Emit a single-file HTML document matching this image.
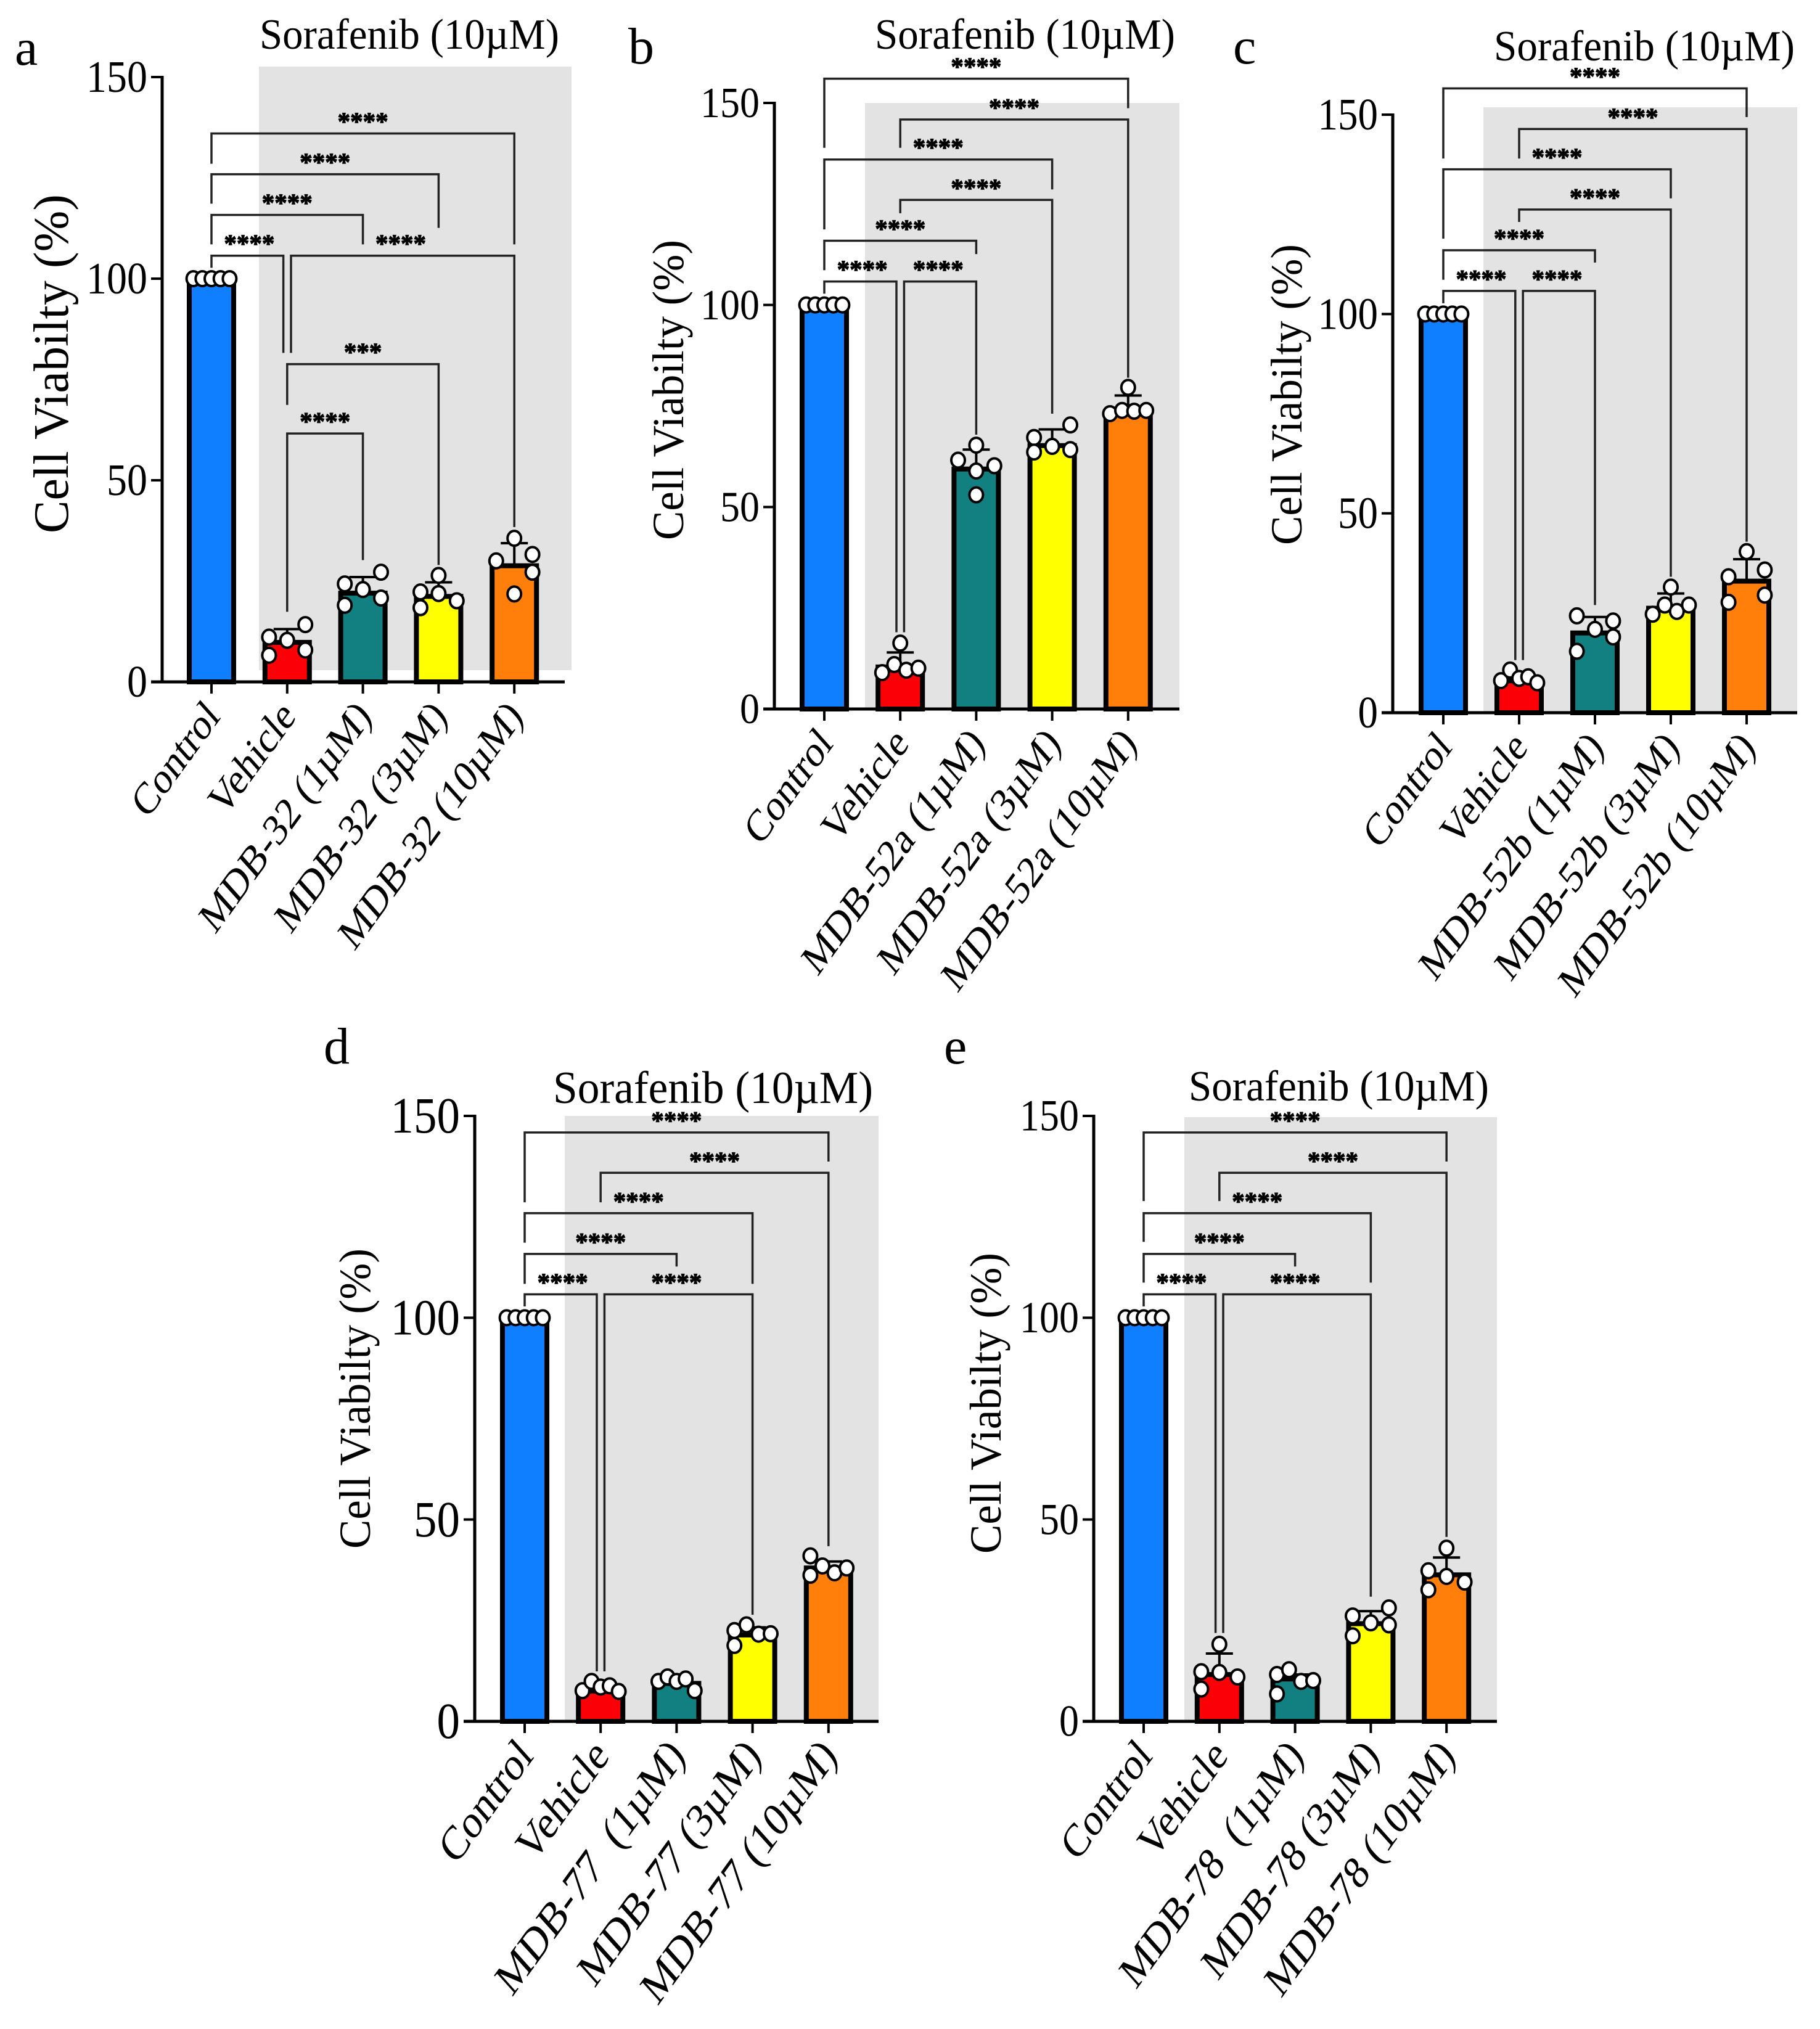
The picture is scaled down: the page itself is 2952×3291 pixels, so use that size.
<!DOCTYPE html>
<html lang="en">
<head>
<meta charset="utf-8">
<title>Cell viability bar charts</title>
<style>
html,body{margin:0;padding:0;background:#fff;}
svg{display:block;}
text{font-family:"Liberation Serif",serif;fill:#000;}
</style>
</head>
<body>
<svg id="figure" xmlns="http://www.w3.org/2000/svg" width="2952" height="3291" viewBox="0 0 2952 3291">
  <rect width="2952" height="3291" fill="#fff"/>

  <g id="panel-a">
    <rect x="420" y="108" width="507" height="979" fill="#e3e3e3"/>
    <text x="24" y="105" font-size="84">a</text>
    <text x="421" y="79" font-size="70" textLength="486" lengthAdjust="spacingAndGlyphs">Sorafenib (10µM)</text>
    <text transform="translate(110,865) rotate(-90)" font-size="80" textLength="550" lengthAdjust="spacingAndGlyphs">Cell Viabilty (%)</text>
  </g>
  <g id="panel-b">
    <rect x="1403" y="167" width="510" height="983" fill="#e3e3e3"/>
    <text x="1019" y="103" font-size="84">b</text>
    <text x="1419" y="79" font-size="70" textLength="487" lengthAdjust="spacingAndGlyphs">Sorafenib (10µM)</text>
    <text transform="translate(1108,876) rotate(-90)" font-size="72" textLength="487" lengthAdjust="spacingAndGlyphs">Cell Viabilty (%)</text>
  </g>
  <g id="panel-c">
    <rect x="2406" y="174" width="509" height="982" fill="#e3e3e3"/>
    <text x="2000" y="103" font-size="84">c</text>
    <text x="2423" y="98" font-size="70" textLength="488" lengthAdjust="spacingAndGlyphs">Sorafenib (10µM)</text>
    <text transform="translate(2111,884) rotate(-90)" font-size="72" textLength="488" lengthAdjust="spacingAndGlyphs">Cell Viabilty (%)</text>
  </g>
  <g id="panel-d">
    <rect x="916" y="1810" width="509" height="982" fill="#e3e3e3"/>
    <text x="525" y="1725" font-size="84">d</text>
    <text x="897" y="1789" font-size="74" textLength="519" lengthAdjust="spacingAndGlyphs">Sorafenib (10µM)</text>
    <text transform="translate(600,2512) rotate(-90)" font-size="72" textLength="487" lengthAdjust="spacingAndGlyphs">Cell Viabilty (%)</text>
  </g>
  <g id="panel-e">
    <rect x="1921" y="1812" width="507" height="980" fill="#e3e3e3"/>
    <text x="1531" y="1725" font-size="84">e</text>
    <text x="1928" y="1785" font-size="70" textLength="487" lengthAdjust="spacingAndGlyphs">Sorafenib (10µM)</text>
    <text transform="translate(1623,2520) rotate(-90)" font-size="72" textLength="488" lengthAdjust="spacingAndGlyphs">Cell Viabilty (%)</text>
  </g>
</svg>

<script>
const yTickValues = [0, 50, 100, 150];
const barColors = ['#0f7fff', '#fc0008', '#128080', '#ffff00', '#ff7f0a'];

const categoriesA = ['Control', 'Vehicle', 'MDB-32 (1µM)', 'MDB-32 (3µM)', 'MDB-32 (10µM)'];
const categoriesB = ['Control', 'Vehicle', 'MDB-52a (1µM)', 'MDB-52a (3µM)', 'MDB-52a (10µM)'];
const categoriesC = ['Control', 'Vehicle', 'MDB-52b (1µM)', 'MDB-52b (3µM)', 'MDB-52b (10µM)'];
const categoriesD = ['Control', 'Vehicle', 'MDB-77  (1µM)', 'MDB-77 (3µM)', 'MDB-77 (10µM)'];
const categoriesE = ['Control', 'Vehicle', 'MDB-78  (1µM)', 'MDB-78 (3µM)', 'MDB-78 (10µM)'];

const meansA = [100, 9.8, 22, 21.2, 28.8];
const meansB = [100, 10.4, 59.4, 65.2, 73];
const meansC = [100, 8, 20, 26.2, 33];
const meansD = [100, 7.5, 9.4, 21.4, 38];
const meansE = [100, 11.6, 10.5, 24.2, 36.3];

const errorTopsA = [100, 13.1, 26, 24.7, 34.4];
const errorTopsB = [100, 14, 64.2, 69.2, 77.6];
const errorTopsC = [100, 9.5, 24, 29.9, 38.5];
const errorTopsD = [100, 9, 10.5, 23.3, 39.6];
const errorTopsE = [100, 16.8, 11.6, 27.3, 40.6];

const pointsA = [[100,100,100,100,100],[11.1,10.3,14.2,7.9,6.6],[24.3,22.9,27.2,20.8,19],[22.3,26.4,21.9,20.1,18.4],[35.6,31.6,30,27.2,21.8]];
const pointsB = [[100,100,100,100,100],[16.3,11,9,9.6,10.1],[65.3,61.6,60.2,58.9,53],[70.3,67.2,65,64.2,63.6],[79.6,73.1,73.9,73.7,73.9]];
const pointsC = [[100,100,100,100,100],[8.05,10.7,8.6,9,7.5],[24.3,20.9,23,19,15.4],[31.5,24.7,27,25.4,27],[40.4,35.8,34.1,29.5,27.7]];
const pointsD = [[100,100,100,100,100],[7.6,9.9,8.5,8.8,7.4],[9.9,11,9.9,10.5,7.6],[22.5,23.9,21.6,21.7,18.8],[41,38.5,36.8,38,36.2]];
const pointsE = [[100,100,100,100,100],[19.1,12.3,12.1,11,8],[11.6,12.8,9.9,10.1,6.8],[26.1,28.1,24.4,23.9,21.2],[42.9,37.3,35.9,34.5,32.6]];

/* swarm column index of each point within its bar */
const swarmA = [[-3,-1.5,0,1.5,3],[-3,0,3,3,-3],[-3,0,3,3,-3],[-3,0,0,3,-3],[0,3,-3,3,0]];
const swarmB = [[-3,-1.5,0,1.5,3],[0,-1,-3,1,3],[0,-3,3,0,0],[3,-3,0,3,-3],[0,-3,-1,1,3]];
const swarmC = [[-3,-1.5,0,1.5,3],[-3,-1.5,0,1.5,3],[-3,0,3,3,-3],[0,-3,-1,1,3],[0,3,-3,3,-3]];
const swarmD = [[-3,-1.5,0,1.5,3],[-3,-1.5,0,1.5,3],[-3,-1.5,0,1.5,3],[-3,-1,1,3,-3],[-3,-1,1,3,-3]];
const swarmE = [[-3,-1.5,0,1.5,3],[0,-3,0,3,-3],[-3,-1,1,3,-3],[-3,3,0,3,-3],[0,-3,0,3,-3]];

/* significance brackets: from group, to group, level, left end, right end, label, from side, to side (values in % units) */
const bracketsA = [[0,4,136,128.5,108.5,'****',0,0],[0,3,125.9,118.6,112.6,'****',0,0],[0,2,115.8,108.5,108.5,'****',0,0],[0,1,105.7,102.7,81.6,'****',0,-1],[1,4,105.7,81.6,38.4,'****',1,0],[1,3,78.8,68.7,29,'***',0,0],[1,2,61.6,17.4,30.2,'****',0,0]];
const bracketsB = [[0,4,156,138.9,148.7,'****',0,0],[1,4,145.9,138.9,82,'****',0,0],[0,3,136,118.7,128.6,'****',0,0],[1,3,126,122.7,73.1,'****',0,0],[0,2,115.9,108.6,112.6,'****',0,0],[0,1,105.8,102.8,19,'****',0,-1],[1,2,105.8,19,67.9,'****',1,0]];
const bracketsC = [[0,4,156.6,139,149.4,'****',0,0],[1,4,146.4,139,42.9,'****',0,0],[0,3,136.3,118.9,129,'****',0,0],[1,3,126.2,123.1,34.1,'****',0,0],[0,2,116,108.6,112.9,'****',0,0],[0,1,105.8,102.7,13.2,'****',0,-1],[1,2,105.8,13.2,27,'****',1,0]];
const bracketsD = [[0,4,145.9,128.6,138.7,'****',0,0],[1,4,135.9,128.6,43.4,'****',0,0],[0,3,125.9,118.6,108.4,'****',0,0],[0,2,115.8,108.4,112.7,'****',0,0],[0,1,105.8,102.8,12.4,'****',0,-1],[1,3,105.8,12.4,26.4,'****',1,0]];
const bracketsE = [[0,4,145.9,128.9,138.7,'****',0,0],[1,4,135.9,128.9,45.7,'****',0,0],[0,3,125.9,118.8,108.7,'****',0,0],[0,2,115.8,108.7,112.7,'****',0,0],[0,1,105.8,102.8,21.9,'****',0,-1],[1,3,105.8,21.9,30.9,'****',1,0]];

const NS = 'http://www.w3.org/2000/svg';
function make(parent, tag, attrs) {
  const el = document.createElementNS(NS, tag);
  for (const k in attrs) el.setAttribute(k, attrs[k]);
  parent.appendChild(el);
  return el;
}

function drawPanel(id, frame, categories, means, errorTops, points, swarm, brackets) {
  const root = document.getElementById(id);
  const y = v => frame.y0 - (v / 150) * (frame.y0 - frame.y150);
  const x = i => frame.x0 + i * frame.step;
  const sideNudge = 6.2;
  const swarmStep = 9.8;
  const halfBar = 36;

  brackets.forEach(function (b) {
    const xa = x(b[0]) + b[6] * sideNudge;
    const xb = x(b[1]) + b[7] * sideNudge;
    const line = make(root, 'path', {
      d: 'M' + xa + ' ' + y(b[3]) + 'V' + y(b[2]) + 'H' + xb + 'V' + y(b[4]),
      fill: 'none', stroke: '#222', 'stroke-width': 3.5
    });
    
    
    const stars = make(root, 'text', {
      x: (x(b[0]) + x(b[1])) / 2, y: y(b[2]) - 6,
      'text-anchor': 'middle', 'font-size': 41, 'font-weight': 'bold',
      stroke: '#000', 'stroke-width': 1.2
    });
    stars.textContent = b[5];
    
    
  });

  categories.forEach(function (cat, i) {
    const cx = x(i);
    const err = make(root, 'path', {
      d: 'M' + cx + ' ' + y(means[i]) + 'V' + y(errorTops[i]) + 'M' + (cx - 22) + ' ' + y(errorTops[i]) + 'H' + (cx + 22),
      fill: 'none', stroke: '#000', 'stroke-width': 4
    });
    
    
    const bar = make(root, 'rect', {
      x: cx - halfBar, y: y(means[i]), width: halfBar * 2, height: frame.y0 - y(means[i]),
      fill: barColors[i], stroke: '#000', 'stroke-width': 8
    });
    
    
    points[i].forEach(function (v, j) {
      const dot = make(root, 'ellipse', {
        cx: cx + swarm[i][j] * swarmStep, cy: y(v), rx: 11, ry: 12,
        fill: '#fff', stroke: '#000', 'stroke-width': 4
      });
      
      
    });
    const tick = make(root, 'line', {
      x1: cx, x2: cx, y1: frame.y0, y2: frame.y0 + 19, stroke: '#000', 'stroke-width': 4
    });
    
    
    const label = make(root, 'text', {
      transform: 'translate(' + (cx + 16) + ',' + (frame.y0 + 58) + ') scale(0.95,1.18) rotate(-48)',
      'text-anchor': 'end', 'font-size': frame.labelSize, style: 'white-space:pre'
    });
    label.textContent = cat;
    
    
  });

  const yAxis = make(root, 'line', {
    x1: frame.axisX, x2: frame.axisX, y1: y(150) - 2, y2: frame.y0, stroke: '#000', 'stroke-width': 5
  });
  
  
  const xAxis = make(root, 'line', {
    x1: frame.axisX - 18, x2: frame.axisRight, y1: frame.y0, y2: frame.y0, stroke: '#000', 'stroke-width': 5
  });
  
  

  yTickValues.forEach(function (t) {
    const tick = make(root, 'line', {
      x1: frame.axisX - 18, x2: frame.axisX, y1: y(t), y2: y(t), stroke: '#000', 'stroke-width': 4
    });
    
    
    const label = make(root, 'text', {
      transform: 'translate(' + (frame.axisX - 24) + ',' + (y(t) + frame.tickSize * frame.tickStretch * 0.33) + ') scale(1,' + frame.tickStretch + ')',
      'text-anchor': 'end', 'font-size': frame.tickSize
    });
    label.textContent = String(t);
    
    
  });
}

drawPanel('panel-a', {axisX:263, axisRight:916, y0:1106, y150:125, x0:343, step:122.8, tickSize:66, tickStretch:1.1, labelSize:62},
  categoriesA, meansA, errorTopsA, pointsA, swarmA, bracketsA);
drawPanel('panel-b', {axisX:1256, axisRight:1913, y0:1150, y150:167, x0:1337, step:123.2, tickSize:64, tickStretch:1.1, labelSize:62},
  categoriesB, meansB, errorTopsB, pointsB, swarmB, bracketsB);
drawPanel('panel-c', {axisX:2259, axisRight:2915, y0:1156, y150:186, x0:2341, step:123, tickSize:65, tickStretch:1.12, labelSize:62},
  categoriesC, meansC, errorTopsC, pointsC, swarmC, bracketsC);
drawPanel('panel-d', {axisX:770, axisRight:1425, y0:2792, y150:1810, x0:851, step:123.2, tickSize:75, tickStretch:1.1, labelSize:66},
  categoriesD, meansD, errorTopsD, pointsD, swarmD, bracketsD);
drawPanel('panel-e', {axisX:1774, axisRight:2428, y0:2792, y150:1810, x0:1855, step:122.8, tickSize:64, tickStretch:1.12, labelSize:64},
  categoriesE, meansE, errorTopsE, pointsE, swarmE, bracketsE);
</script>
</body>
</html>
